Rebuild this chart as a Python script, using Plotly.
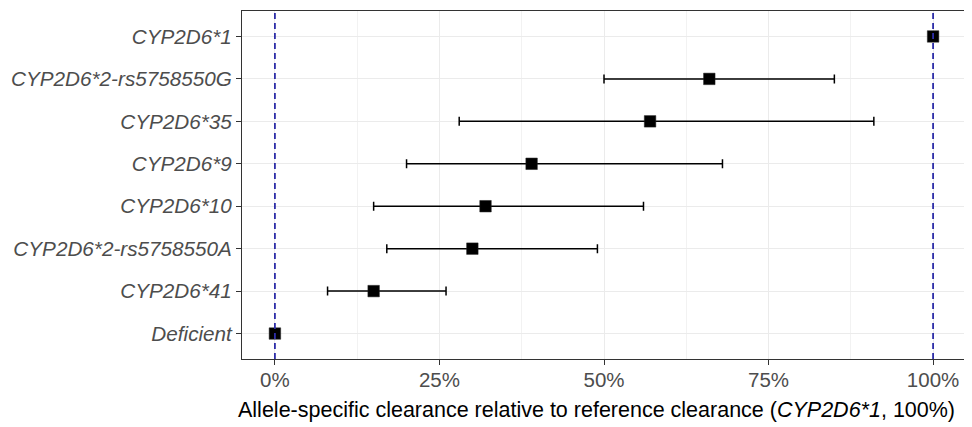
import plotly.graph_objects as go

# ---- data ----
alleles = ["CYP2D6*1", "CYP2D6*2-rs5758550G", "CYP2D6*35", "CYP2D6*9",
           "CYP2D6*10", "CYP2D6*2-rs5758550A", "CYP2D6*41", "Deficient"]
clearance = [100, 66, 57, 39, 32, 30, 15, 0]
ci_low = [100, 50, 28, 20, 15, 17, 8, 0]
ci_high = [100, 85, 91, 68, 56, 49, 26, 0]
ref_lines = [0, 100]
x_ticks = [0, 25, 50, 75, 100]
x_tick_labels = ["0%", "25%", "50%", "75%", "100%"]
x_title = "Allele-specific clearance relative to reference clearance (<i>CYP2D6*1</i>, 100%)"

err_plus = [h - v for h, v in zip(ci_high, clearance)]
err_minus = [v - l for v, l in zip(clearance, ci_low)]

FONT = "Liberation Sans, Arial, sans-serif"

fig = go.Figure()
fig.add_trace(go.Scatter(
    x=clearance, y=alleles, mode="markers",
    marker=dict(symbol="square", size=11.5, color="black",
                line=dict(color="#222222", width=0.5)),
    error_x=dict(type="data", symmetric=False, array=err_plus,
                 arrayminus=err_minus, color="black", thickness=1.5, width=4.5),
    showlegend=False, hoverinfo="x+y",
))

for xv in ref_lines:
    fig.add_vline(x=xv, line=dict(color="#2E2EA8", width=1.8, dash="6px,4px"),
                  layer="above")

n = len(alleles)
# page body has an 8px margin, so the figure starts at (8, 8)
W, H = 964, 419
ML, MR, MT, MB = 234, 6, 3, 68
plot_h = H - MT - MB

fig.update_layout(
    width=W, height=H,
    margin=dict(l=ML, r=MR, t=MT, b=MB, autoexpand=False),
    plot_bgcolor="white", paper_bgcolor="white",
    font=dict(family=FONT, color="black"),
)
fig.add_annotation(
    text=x_title, xref="paper", yref="paper", x=0.49, y=-51 / plot_h,
    xanchor="center", yanchor="middle", showarrow=False,
    font=dict(size=21.5, color="black", family=FONT),
)
fig.update_xaxes(
    range=[-5, 105], tickmode="array", tickvals=x_ticks, ticktext=x_tick_labels,
    ticks="outside", ticklen=5, tickcolor="#333333", tickwidth=1,
    ticklabelstandoff=-3,
    tickfont=dict(size=20.5, color="#4D4D4D", family=FONT),
    showgrid=True, gridcolor="#EBEBEB", gridwidth=1.2,
    minor=dict(dtick=12.5, tick0=0, showgrid=True, gridcolor="#F2F2F2", gridwidth=0.6, ticks=""),
    showline=True, linecolor="#333333", linewidth=1, mirror=True,
    zeroline=False, automargin=False,
)
fig.update_yaxes(
    type="category", categoryorder="array", categoryarray=alleles,
    range=[n - 1 + 0.6, -0.6],
    ticks="outside", ticklen=5, tickcolor="#333333", tickwidth=1,
    tickfont=dict(size=20.7, color="#4D4D4D", family=FONT, style="italic"),
    showgrid=True, gridcolor="#EBEBEB", gridwidth=1.2,
    showline=True, linecolor="#333333", linewidth=1, mirror=True,
    zeroline=False, automargin=False,
)

fig.write_html("out.html")
